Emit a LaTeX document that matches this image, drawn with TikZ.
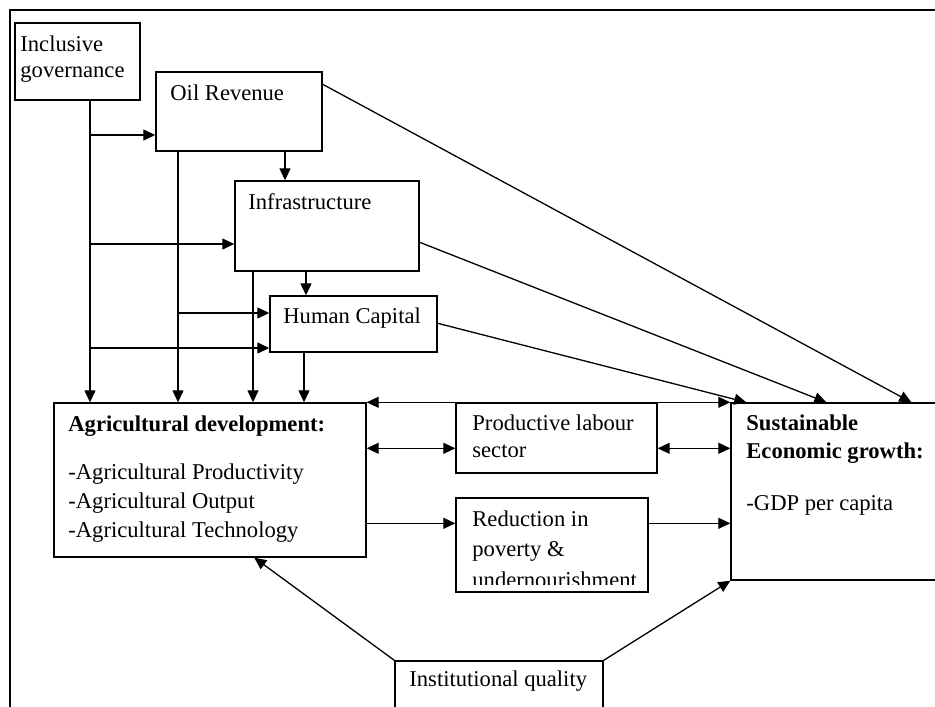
\documentclass[tikz,border=0pt]{standalone}
\usepackage{fontspec}
\setmainfont{Liberation Serif}
\usetikzlibrary{arrows.meta,fit,calc}

\tikzset{
  box/.style={draw, line width=0.7pt, inner sep=0pt},
  txt/.style={anchor=base west, inner sep=0pt, font=\fontsize{11.3}{14.5}\selectfont},
  btxt/.style={txt, font=\fontsize{11.3}{14.5}\selectfont\bfseries},
  ln/.style={line width=0.65pt},
  arr/.style={ln, -{Triangle[length=6pt,width=5.5pt]}},
  dbl/.style={ln, {Triangle[length=6pt,width=5.5pt]}-{Triangle[length=6pt,width=5.5pt]}}
}

\begin{document}
\begin{tikzpicture}[x=0.5pt,y=-0.5pt]
\useasboundingbox (0,0) rectangle (935,706);
\clip (0,0) rectangle (935,706);
\draw[line width=0.7pt] (940,10) -- (10,10) -- (10,710);

% boxes
\node[box, fit={(15,23) (140,100)}] (gov) {};
\node[box, fit={(156,72) (322,151)}] (oil) {};
\node[box, fit={(235,181) (419,271)}] (infra) {};
\node[box, fit={(270,296) (437,352)}] (hum) {};
\node[box, fit={(54,403) (366,557)}] (agri) {};
\node[box, fit={(456,403) (657,473)}] (lab) {};
\node[box, fit={(456,498) (648,592)}] (pov) {};
\node[box, fit={(731,403) (945,580)}] (growth) {};
\node[box, fit={(395,661) (603,716)}] (inst) {};

% texts
\node[txt] (govA) at (20,52) {Inclusive};
\node[txt] (govB) at (20,78) {governance};
\node[txt] (oilA) at (170,100) {Oil Revenue};
\node[txt] (infA) at (248,209) {Infrastructure};
\node[txt] (humA) at (283,323) {Human Capital};
\node[btxt] (agriA) at (68,431) {Agricultural development:};
\node[txt] (agriB) at (68,479) {-Agricultural Productivity};
\node[txt] (agriC) at (68,508) {-Agricultural Output};
\node[txt] (agriD) at (68,537) {-Agricultural Technology};
\node[txt] (labA) at (472,430) {Productive labour};
\node[txt] (labB) at (472,457) {sector};
\node[txt] (povA) at (472,526) {Reduction in};
\node[txt] (povB) at (472,556) {poverty \&};
\begin{scope}
\clip (456,560) rectangle (648,584);
\node[txt] (povC) at (472,587) {undernourishment};
\end{scope}
\node[btxt] (grA) at (746,430) {Sustainable};
\node[btxt] (grB) at (746,458) {Economic growth:};
\node[txt] (grC) at (746,510) {-GDP per capita};
\node[txt] (instA) at (409,686) {Institutional quality};

% governance line
\coordinate (gx) at (90,100);
\draw[arr] (gx) -- (gx |- agri.north);
\coordinate (g1) at (90,135);
\draw[arr] (g1) -- (g1 -| oil.west);
\coordinate (g2) at (90,244);
\draw[arr] (g2) -- (g2 -| infra.west);
\coordinate (g3) at (90,348);
\draw[arr] (g3) -- (g3 -| hum.west);

% oil revenue
\coordinate (ox) at (178,151);
\draw[arr] (ox) -- (ox |- agri.north);
\coordinate (o1) at (178,313);
\draw[arr] (o1) -- (o1 -| hum.west);
\coordinate (oi) at (285,151);
\draw[arr] (oi) -- (oi |- infra.north);

% infrastructure and human capital
\coordinate (ix) at (253,271);
\draw[arr] (ix) -- (ix |- agri.north);
\coordinate (ih) at (306,271);
\draw[arr] (ih) -- (ih |- hum.north);
\coordinate (ha) at (304,352);
\draw[arr] (ha) -- (ha |- agri.north);

% to growth
\draw[arr] ($(oil.north east)+(0,13)$) -- ($(growth.north west)+(181,0)$);
\draw[arr] ($(infra.north east)+(0,62)$) -- ($(growth.north west)+(96,0)$);
\draw[arr] ($(hum.north east)+(0,28)$) -- ($(growth.north west)+(16,0)$);

% middle row
\draw[dbl] (agri.north east) -- (growth.north west);
\draw[dbl] ($(agri.north east)+(0,46)$) -- ($(lab.north west)+(0,46)$);
\draw[dbl] ($(lab.north east)+(0,46)$) -- ($(growth.north west)+(0,46)$);
\draw[arr] ($(agri.north east)+(0,121)$) -- ($(pov.north west)+(0,26)$);
\draw[arr] ($(pov.north east)+(0,26)$) -- ($(growth.north west)+(0,121)$);

% institutional quality
\draw[arr] (inst.north west) -- ($(agri.south west)+(201,0)$);
\draw[arr] (inst.north east) -- (growth.south west);
\end{tikzpicture}
\end{document}
